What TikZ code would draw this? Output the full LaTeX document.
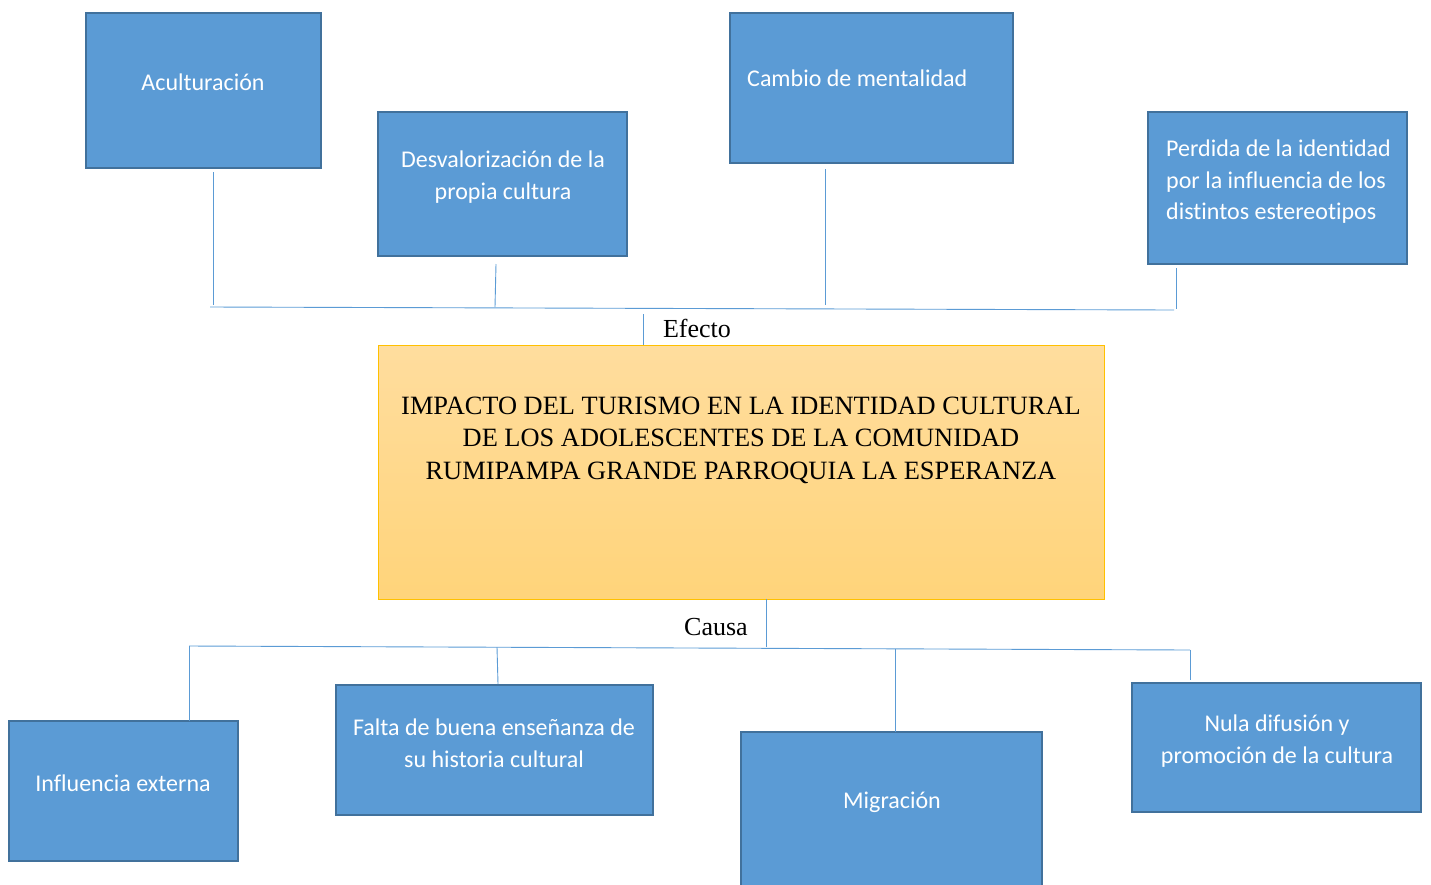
\documentclass[tikz,border=0pt]{standalone}
\usepackage{fontspec}
\setmainfont{Liberation Serif}
\newfontfamily\boxfont[Ligatures=NoCommon]{Carlito}
\usetikzlibrary{calc}
\definecolor{boxblue}{HTML}{5B9BD5}
\definecolor{boxedge}{HTML}{41719C}
\definecolor{connblue}{HTML}{5B9BD5}
\definecolor{ctop}{HTML}{FFDD9E}
\definecolor{cbot}{HTML}{FFD47A}
\definecolor{cedge}{HTML}{FFC000}
\begin{document}
\begin{tikzpicture}[x=1pt,y=-1pt,
  box/.style={draw=boxedge, fill=boxblue, line width=1.6pt, inner sep=0pt, outer sep=0pt, anchor=north west},
  btxt/.style={text=white, font=\boxfont\fontsize{24}{31.5}\selectfont, align=center, inner sep=0pt},
  conn/.style={draw=connblue, line width=0.9pt},
  lbl/.style={font=\fontsize{26}{30}\selectfont, inner sep=0pt}]
\useasboundingbox (0,0) rectangle (1431,884);
\clip (0,0) rectangle (1431,884);

% top boxes
\node[box, minimum width=235pt, minimum height=155pt] (acul) at (86,13) {};
\node[btxt] at (203,82) {Aculturación};
\node[box, minimum width=249pt, minimum height=144pt] (desv) at (378,112) {};
\node[btxt] at (503,177) {Desvalorización de la\\propia cultura};
\node[box, minimum width=283pt, minimum height=150pt] (camb) at (730,13) {};
\node[btxt, anchor=west] at (747,78) {Cambio de mentalidad};
\node[box, minimum width=259pt, minimum height=152pt] (perd) at (1148,112) {};
\node[btxt, anchor=west, align=left] at (1166,182) {Perdida de la identidad\\por la influencia de los\\distintos estereotipos};

% central box
\node[draw=cedge, line width=1pt, top color=ctop, bottom color=cbot, minimum width=726pt, minimum height=254pt, anchor=north west, inner sep=0pt, outer sep=0pt] (main) at (378,345) {};
\node[align=center, inner sep=0pt, font=\fontsize{26.4}{32.5}\selectfont] at (741,440) {IMPACTO DEL TURISMO EN LA IDENTIDAD CULTURAL\\DE LOS ADOLESCENTES DE LA COMUNIDAD\\RUMIPAMPA GRANDE PARROQUIA LA ESPERANZA};

% labels
\node[lbl] (efecto) at (697,328) {Efecto};
\node[lbl] (causa) at (716,627) {Causa};

% bottom boxes
\node[box, minimum width=229pt, minimum height=140pt] (infl) at (9,721) {};
\node[btxt] at (123,783) {Influencia externa};
\node[box, minimum width=317pt, minimum height=130pt] (falt) at (336,685) {};
\node[btxt] at (494,743) {Falta de buena enseñanza de\\su historia cultural};
\node[box, minimum width=301pt, minimum height=170pt] (migr) at (741,732) {};
\node[btxt] at (892,802) {Migración};
\node[box, minimum width=289pt, minimum height=129pt] (nula) at (1132,683) {};
\node[btxt] at (1277,741) {Nula difusión y\\promoción de la cultura};

% connector coordinates (top)
\coordinate (t0) at (210,307);
\coordinate (t1) at (1174,310);
\coordinate (ta) at (213,305);
\coordinate (td) at (495,307);
\coordinate (tc) at (825,305);
\coordinate (tp) at (1176,309);
\coordinate (te) at (643,314);
\draw[conn] (t0) -- (t1);
\draw[conn] ($(acul.south west)+(127,4)$) -- (ta);
\draw[conn] ($(desv.south west)+(118,8)$) -- (td);
\draw[conn] ($(camb.south west)+(95,6)$) -- (tc);
\draw[conn] ($(perd.south west)+(28,4)$) -- (tp);
\draw[conn] (te) -- (main.north -| te);

% connector coordinates (bottom)
\coordinate (b0) at (189,646);
\coordinate (b1) at (1190,650);
\coordinate (bm) at (766,647);
\coordinate (bf) at (497,647);
\coordinate (bg) at (895,649);
\draw[conn] (b0) -- (b1);
\draw[conn] (main.south -| bm) -- (bm);
\draw[conn] (b0) -- (infl.north -| b0);
\draw[conn] (bf) -- ($(falt.north west)+(162,-1)$);
\draw[conn] (bg) -- (migr.north -| bg);
\draw[conn] (b1) -- ($(nula.north west)+(58,-3)$);
\end{tikzpicture}
\end{document}
